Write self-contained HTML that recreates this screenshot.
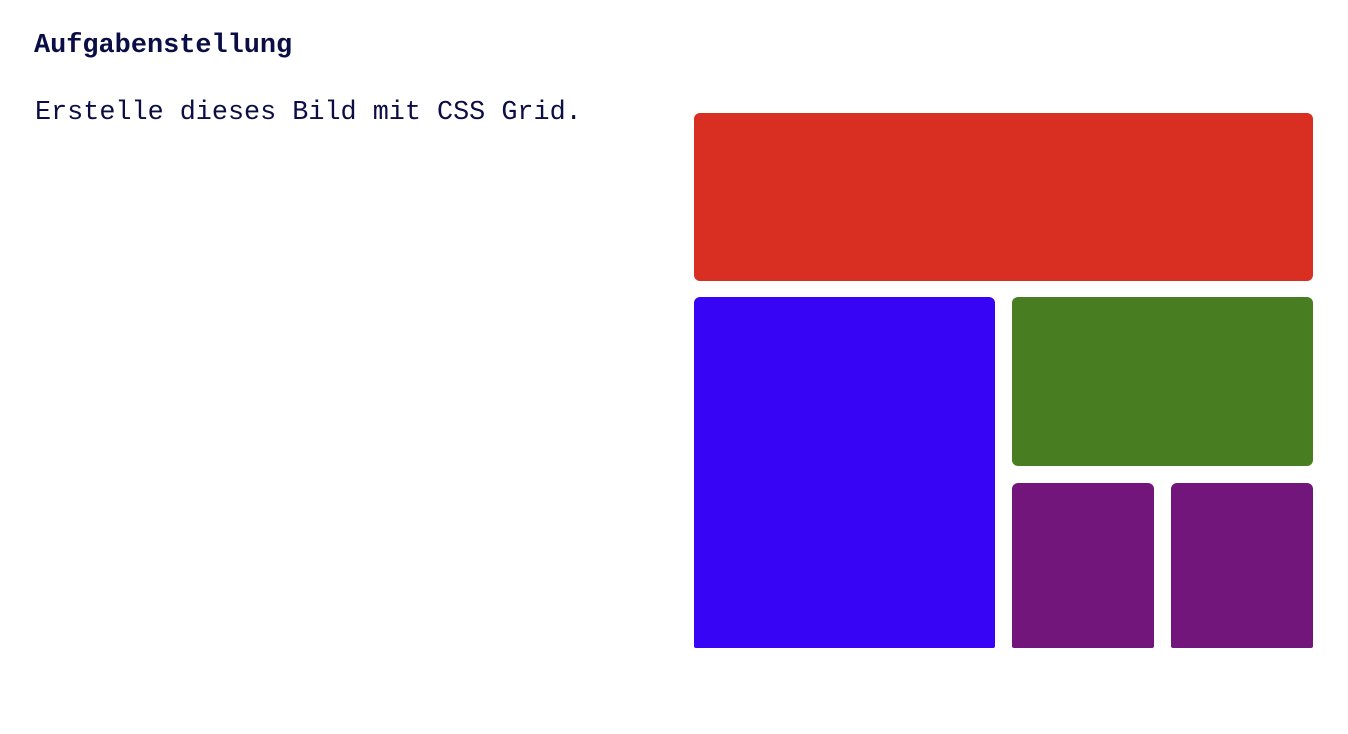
<!DOCTYPE html>
<html><head><style>
body{margin:0;width:1348px;height:734px;background:#fff;position:relative;overflow:hidden;color:#0b0d45}
.h{position:absolute;left:34px;top:31px;font:bold 26.9px "Liberation Mono",monospace;white-space:nowrap}
.t{position:absolute;left:35px;top:98px;font:26.8px "Liberation Mono",monospace;white-space:nowrap}
.b{position:absolute;border-radius:6px}
</style></head><body>
<div class="h">Aufgabenstellung</div>
<div class="t">Erstelle dieses Bild mit CSS Grid.</div>
<div class="b" style="left:694px;top:113px;width:619px;height:168px;background:#d92f23"></div>
<div class="b" style="left:694px;top:297px;width:301px;height:351px;background:#3804f5;border-bottom-left-radius:2px;border-bottom-right-radius:2px"></div>
<div class="b" style="left:1012px;top:297px;width:301px;height:169px;background:#487d22"></div>
<div class="b" style="left:1012px;top:483px;width:142px;height:165px;background:#73167c;border-bottom-left-radius:2px;border-bottom-right-radius:2px"></div>
<div class="b" style="left:1171px;top:483px;width:142px;height:165px;background:#73167c;border-bottom-left-radius:2px;border-bottom-right-radius:2px"></div>
</body></html>
